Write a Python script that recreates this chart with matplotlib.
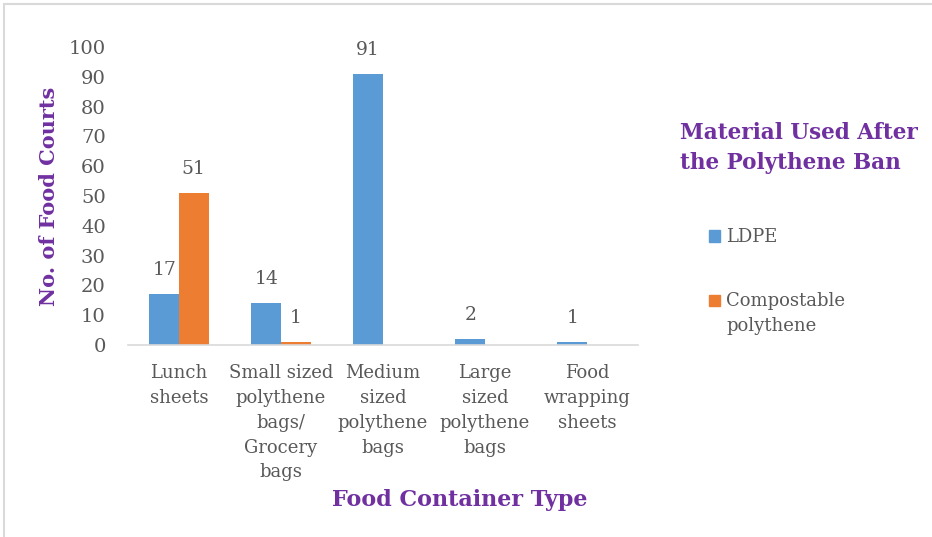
import matplotlib.pyplot as plt
import numpy as np
from matplotlib.patches import Rectangle

categorias = ['Lunch\nsheets', 'Small sized\npolythene\nbags/\nGrocery\nbags',
              'Medium\nsized\npolythene\nbags', 'Large\nsized\npolythene\nbags',
              'Food\nwrapping\nsheets']
ldpe = [17, 14, 91, 2, 1]
compostavel = [51, 1, np.nan, np.nan, np.nan]
series = ['LDPE', 'Compostable\npolythene']

azul = '#5B9BD5'
laranja = '#ED7D31'
roxo = '#7030A0'
cinza = '#595959'

plt.rcParams['font.family'] = ['DejaVu Serif']

W, H = 932, 537
fig = plt.figure(figsize=(W/100, H/100), dpi=100)
ax = fig.add_axes([128/W, (H-345)/H, 510/W, 298/H])

x = np.arange(len(categorias))
w = 0.29
b1 = ax.bar(x - w/2, ldpe, w, color=azul)
b2 = ax.bar(x + w/2, compostavel, w, color=laranja)

ax.bar_label(b1, labels=[str(v) for v in ldpe], padding=11, fontsize=13.5, color=cinza)
ax.bar_label(b2, labels=['' if np.isnan(v) else str(int(v)) for v in compostavel],
             padding=11, fontsize=13.5, color=cinza)

ax.set_xlim(-0.5, 4.5)
ax.set_ylim(0, 100)
ax.set_yticks(range(0, 101, 10))
ax.set_xticks(x)
ax.set_xticklabels(categorias, fontsize=13, color=cinza, linespacing=1.48)
ax.tick_params(axis='y', labelsize=14, colors=cinza, length=0, pad=16)
ax.tick_params(axis='x', length=0, pad=14)
for lado in ['top', 'right', 'left']:
    ax.spines[lado].set_visible(False)
ax.spines['bottom'].set_color('#D9D9D9')
ax.spines['bottom'].set_linewidth(1.2)

ax.set_ylabel('No. of Food Courts', fontsize=15, fontweight='bold', color=roxo, labelpad=7)
fig.text(460/W, 1 - 500/H, 'Food Container Type', fontsize=16, fontweight='bold',
         color=roxo, ha='center', va='center')

fig.text(680/W, 1 - 148/H, 'Material Used After\nthe Polythene Ban', fontsize=15.5,
         fontweight='bold', color=roxo, ha='left', va='center', linespacing=1.45)

# legenda desenhada a mao
for cor, nome, yy in zip([azul, laranja], series, [236, 300]):
    fig.patches.append(Rectangle((709/W, 1 - (yy + 5.5)/H), 11/W, 11/H,
                                 transform=fig.transFigure, color=cor))
    fig.text(726/W, 1 - (yy - 8)/H, nome, fontsize=13, color=cinza,
             ha='left', va='top', linespacing=1.5)

fig.patches.append(Rectangle((4/W, -0.1), 1.1, 1 - 4/H + 0.1, transform=fig.transFigure,
                             fill=False, edgecolor='#D9D9D9', linewidth=1.5))

fig.savefig('out.png', dpi=100)
